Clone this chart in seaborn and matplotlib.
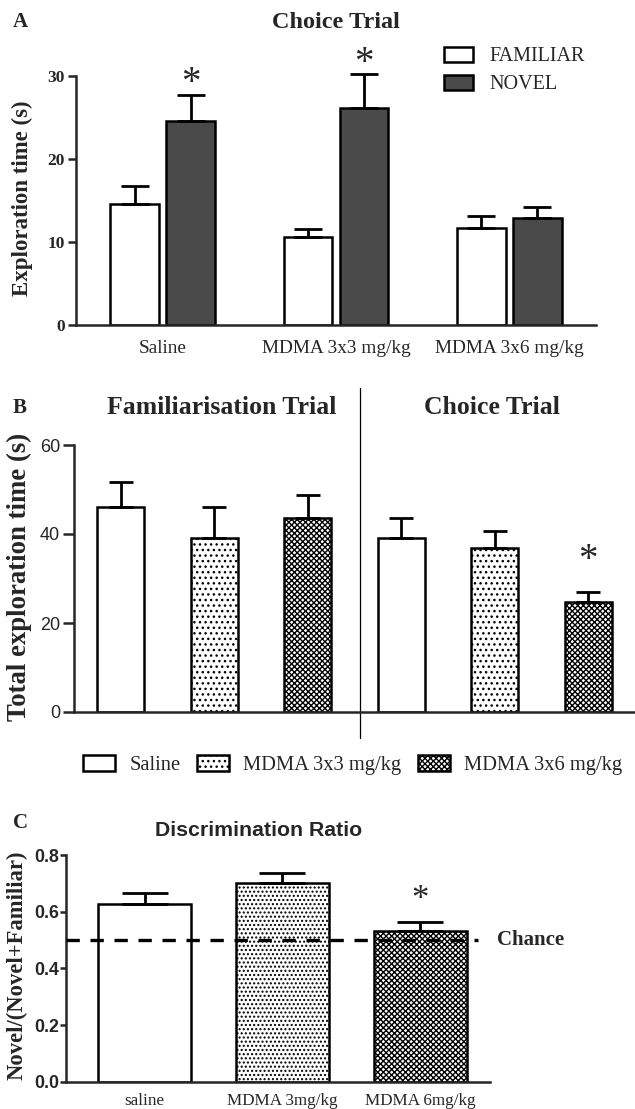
import numpy as np
import pandas as pd
import matplotlib
matplotlib.use("Agg")
import matplotlib.pyplot as plt
import seaborn as sns
from matplotlib.patches import Patch

# A: choice trial, familiar vs novel object
a_groups = ["Saline", "MDMA 3x3 mg/kg", "MDMA 3x6 mg/kg"]
a_objects = ["FAMILIAR", "NOVEL"]
a_familiar = [14.6, 10.6, 11.7]
a_familiar_sem = [2.1, 1.0, 1.4]
a_novel = [24.6, 26.1, 12.9]
a_novel_sem = [3.1, 4.1, 1.3]
a_novel_star = [True, True, False]

# B: total exploration in both trials
b_trials = ["Familiarisation Trial", "Choice Trial"]
b_treatments = ["Saline", "MDMA 3x3 mg/kg", "MDMA 3x6 mg/kg"]
b_familiarisation = [46.0, 39.2, 43.7]
b_familiarisation_sem = [5.6, 6.8, 5.1]
b_choice = [39.2, 36.8, 24.7]
b_choice_sem = [4.5, 3.9, 2.2]
b_choice_star = [False, False, True]

# C: discrimination ratio
c_groups = ["saline", "MDMA 3mg/kg", "MDMA 6mg/kg"]
c_ratio = [0.627, 0.700, 0.532]
c_ratio_sem = [0.038, 0.035, 0.030]
c_star = [False, False, True]
c_chance = 0.5

sns.set_style("ticks")
plt.rcParams["font.family"] = ["Liberation Serif", "DejaVu Serif"]
plt.rcParams["axes.linewidth"] = 1.8
plt.rcParams["hatch.linewidth"] = 1.0
SANS = ["Liberation Sans", "DejaVu Sans"]
LW = 1.8
DARK = "#4a4a4a"
hatch_of = {"Saline": "", "MDMA 3x3 mg/kg": "...", "MDMA 3x6 mg/kg": "xxxxxx"}

fig = plt.figure(figsize=(6.35, 11.09), dpi=100)


def fx(px):
    return px / 635


def fy(py):
    return 1 - py / 1109


def finish_bars(ax, df, capsize, star_off, star_size, hatches=None):
    # bars sorted left to right line up with the dataframe rows
    bars = sorted(ax.patches, key=lambda p: p.get_x())
    xs = [p.get_x() + p.get_width() / 2 for p in bars]
    tops = [p.get_height() for p in bars]
    if hatches is not None:
        for p, h in zip(bars, hatches):
            p.set_hatch(h)
    eb = ax.errorbar(xs, tops, yerr=[np.zeros(len(bars)), df["sem"].values], fmt="none",
                     ecolor="black", elinewidth=2.0, capsize=capsize, capthick=2.0, zorder=1)
    for art in eb.get_children():
        art.set_clip_on(False)
    for x, t, s, star in zip(xs, tops, df["sem"], df["star"]):
        if star:
            ax.annotate("*", xy=(x, t + s), xytext=(0, star_off), textcoords="offset points",
                        ha="center", va="center", fontsize=star_size, annotation_clip=False)


# ---------------- A ----------------
rows = []
for i, g in enumerate(a_groups):
    rows.append((g, "FAMILIAR", a_familiar[i], a_familiar_sem[i], False))
    rows.append((g, "NOVEL", a_novel[i], a_novel_sem[i], a_novel_star[i]))
dfA = pd.DataFrame(rows, columns=["group", "object", "time", "sem", "star"])

axA = fig.add_axes([fx(76), fy(325), fx(596) - fx(76), fy(76) - fy(325)])
sns.barplot(data=dfA, x="group", y="time", hue="object", order=a_groups, hue_order=a_objects,
            palette={"FAMILIAR": "white", "NOVEL": DARK}, width=0.645, gap=0.13,
            edgecolor="black", linewidth=LW, errorbar=None, legend=False, ax=axA)
finish_bars(axA, dfA, capsize=9.9, star_off=8, star_size=28)
axA.set_xlim(-0.5, 2.5)
axA.set_ylim(0, 30)
axA.set_yticks([0, 10, 20, 30])
axA.set_xlabel("")
axA.set_ylabel("Exploration time (s)", fontsize=16.5, fontweight="bold")
axA.yaxis.set_label_coords(-0.083, 0.51)
axA.tick_params(axis="x", length=0, pad=11, labelsize=13.9)
axA.tick_params(axis="y", length=6, width=LW, pad=2, labelsize=12.5)
for lbl in axA.get_yticklabels():
    lbl.set_fontweight("bold")
sns.despine(ax=axA)
fig.text(fx(20), fy(22), "A", fontsize=15, fontweight="bold", ha="center", va="center")
fig.text(fx(336), fy(22), "Choice Trial", fontsize=17.5, fontweight="bold", ha="center", va="center")
fig.legend(handles=[Patch(facecolor="white", edgecolor="black", lw=LW, label=a_objects[0]),
                    Patch(facecolor=DARK, edgecolor="black", lw=LW, label=a_objects[1])],
           loc="upper left", bbox_to_anchor=(fx(443.5), fy(47)), frameon=False, fontsize=14.5,
           handlelength=1.45, handleheight=0.75, handletextpad=0.85, labelspacing=0.43,
           borderpad=0, borderaxespad=0)

# ---------------- B ----------------
rows = []
for trial, vals, sems, stars in [(b_trials[0], b_familiarisation, b_familiarisation_sem, [False] * 3),
                                 (b_trials[1], b_choice, b_choice_sem, b_choice_star)]:
    for i, t in enumerate(b_treatments):
        rows.append((trial + " | " + t, t, vals[i], sems[i], stars[i]))
dfB = pd.DataFrame(rows, columns=["bar", "treatment", "time", "sem", "star"])

axB = fig.add_axes([fx(74), fy(712), 1 - fx(74), fy(445) - fy(712)])
sns.barplot(data=dfB, x="bar", y="time", hue="treatment", hue_order=b_treatments, dodge=False,
            palette={t: "white" for t in b_treatments}, width=0.5,
            edgecolor="black", linewidth=LW, errorbar=None, legend=False, ax=axB)
finish_bars(axB, dfB, capsize=8.9, star_off=23, star_size=28,
            hatches=[hatch_of[t] for t in dfB["treatment"]])
axB.set_xlim(-0.5, 5.5)
axB.set_ylim(0, 60)
axB.set_yticks([0, 20, 40, 60])
axB.set_xticks([])
axB.set_xlabel("")
axB.set_ylabel("Total exploration time (s)", fontsize=19.3, fontweight="bold")
axB.yaxis.set_label_coords(-0.075, 0.504)
axB.tick_params(axis="y", length=8, width=LW, pad=2, labelsize=13)
for lbl in axB.get_yticklabels():
    lbl.set_family(SANS)
sns.despine(ax=axB)
axB.axvline(2.56, ymin=-0.097, ymax=1.213, color="black", lw=0.9, clip_on=False)
fig.text(fx(20), fy(408), "B", fontsize=15, fontweight="bold", ha="center", va="center")
fig.text(fx(222), fy(408), b_trials[0], fontsize=18.5, fontweight="bold", ha="center", va="center")
fig.text(fx(492), fy(408), b_trials[1], fontsize=18.5, fontweight="bold", ha="center", va="center")
fig.legend(handles=[Patch(facecolor="white", edgecolor="black", lw=LW, hatch=hatch_of[t], label=t)
                    for t in b_treatments],
           loc="center left", bbox_to_anchor=(fx(83), fy(765)), ncol=3, frameon=False,
           fontsize=14.8, handlelength=1.55, handleheight=0.8, handletextpad=0.7,
           columnspacing=0.8, borderpad=0, borderaxespad=0)

# ---------------- C ----------------
dfC = pd.DataFrame({"group": c_groups, "ratio": c_ratio, "sem": c_ratio_sem, "star": c_star})
axC = fig.add_axes([fx(66), fy(1081.7), fx(490) - fx(66), fy(855) - fy(1081.7)])
sns.barplot(data=dfC, x="group", y="ratio", order=c_groups, color="white", width=0.674,
            edgecolor="black", linewidth=LW, errorbar=None, ax=axC)
finish_bars(axC, dfC, capsize=16.8, star_off=16, star_size=25,
            hatches=["", "....", "xxxxxx"])
axC.axhline(c_chance, xmin=0, xmax=0.972, color="black", lw=2.4, dashes=(4, 3.2), zorder=5)
axC.text(1.017, c_chance, "Chance", transform=axC.get_yaxis_transform(), ha="left", va="center",
         fontsize=15, fontweight="bold")
axC.set_xlim(-0.572, 2.507)
axC.set_ylim(0, 0.8)
axC.set_yticks([0, 0.2, 0.4, 0.6, 0.8])
axC.set_xlabel("")
axC.set_ylabel("Novel/(Novel+Familiar)", fontsize=16.3, fontweight="bold")
axC.yaxis.set_label_coords(-0.0896, 0.515)
axC.tick_params(axis="x", length=0, pad=8, labelsize=12.3)
axC.tick_params(axis="y", length=4, width=LW, pad=1, labelsize=12.8)
for lbl in axC.get_yticklabels():
    lbl.set_family(SANS)
    lbl.set_fontweight("bold")
sns.despine(ax=axC)
fig.text(fx(20), fy(823), "C", fontsize=15, fontweight="bold", ha="center", va="center")
fig.text(fx(259), fy(830), "Discrimination Ratio", fontsize=15.3, fontweight="bold",
         family=SANS, ha="center", va="center")

fig.savefig("out.png", dpi=100)
